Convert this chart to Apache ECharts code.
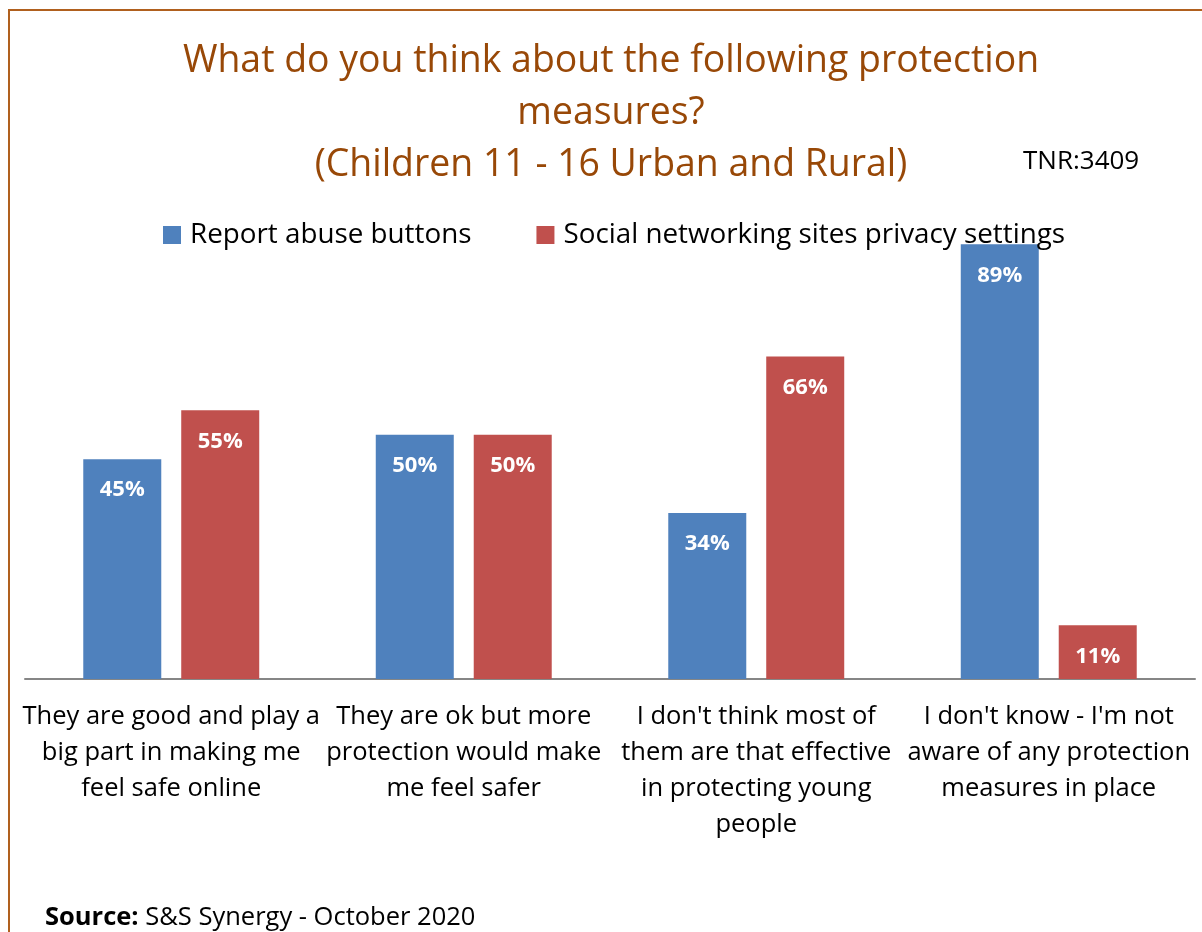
<!DOCTYPE html>
<html>
<head>
<meta charset="utf-8">
<script src="https://cdn.jsdelivr.net/npm/echarts@6/dist/echarts.min.js"></script>
<style>
html,body{margin:0;padding:0;background:#fff;}
#chart{width:1202px;height:932px;}
</style>
</head>
<body>
<div id="chart"></div>
<script>
var titleText = "What do you think about the following protection\nmeasures?\n(Children 11 - 16 Urban and Rural)";
var tnrText = "TNR:3409";
var sourceLabel = "Source:";
var sourceText = " S&S Synergy - October 2020";
var categories = [
  "They are good and play a\nbig part in making me\nfeel safe online",
  "They are ok but more\nprotection would make\nme feel safer",
  "I don't think most of\nthem are that effective\nin protecting young\npeople",
  "I don't know - I'm not\naware of any protection\nmeasures in place"
];
var seriesNames = ["Report abuse buttons", "Social networking sites privacy settings"];
var reportAbuse = [45, 50, 34, 89];
var privacySettings = [55, 50, 66, 11];

var FONT = "'Open Sans', sans-serif";
var chart = echarts.init(document.getElementById('chart'));
function lbl() {
  return {
    show: true, position: 'insideTop', distance: 20,
    color: '#fff', fontWeight: 'bold', fontSize: 22, fontFamily: FONT,
    formatter: function (p) { return p.value + '%'; }
  };
}
chart.setOption({
  backgroundColor: '#fff',
  animation: false,
  title: {
    text: titleText,
    left: 606, top: 30, textAlign: 'center',
    textStyle: { color: '#984807', fontSize: 37.4, fontWeight: 'normal', fontFamily: FONT, lineHeight: 52 }
  },
  legend: {
    data: seriesNames,
    left: 158, top: 216,
    itemWidth: 18, itemHeight: 18, itemGap: 65,
    icon: 'rect',
    textStyle: { color: '#000', fontSize: 27.8, fontFamily: FONT, padding: [0, 0, 0, 4] }
  },
  grid: { left: 25, right: 7, top: 190.5, bottom: 253, containLabel: false },
  xAxis: {
    type: 'category', data: categories,
    axisLine: { lineStyle: { color: '#868686', width: 2 } },
    axisTick: { show: false },
    axisLabel: { color: '#000', fontSize: 25.5, fontFamily: FONT, lineHeight: 36, margin: 20, interval: 0 }
  },
  yAxis: { type: 'value', min: 0, max: 100, show: false, splitLine: { show: false } },
  series: [
    { name: seriesNames[0], type: 'bar', data: reportAbuse, itemStyle: { color: '#4F81BD' },
      barWidth: 78, barGap: '25.6%', label: lbl() },
    { name: seriesNames[1], type: 'bar', data: privacySettings, itemStyle: { color: '#C0504D' },
      barWidth: 78, label: lbl() }
  ],
  graphic: [
    { type: 'rect', shape: { x: 9, y: 10, width: 1220, height: 950 }, style: { fill: 'none', stroke: '#B0601E', lineWidth: 2 }, silent: true },
    { type: 'text', x: 1023, y: 162, style: { text: tnrText, fontSize: 26, fontFamily: FONT, fill: '#000', textVerticalAlign: 'middle' } },
    { type: 'text', x: 45, y: 918, style: {
        text: '{b|' + sourceLabel + '}{n|' + sourceText + '}',
        textVerticalAlign: 'middle',
        rich: { b: { fontWeight: 'bold', fontSize: 25.5, fontFamily: FONT, fill: '#000' },
                n: { fontSize: 25.5, fontFamily: FONT, fill: '#000' } } } }
  ]
});
</script>
</body>
</html>
